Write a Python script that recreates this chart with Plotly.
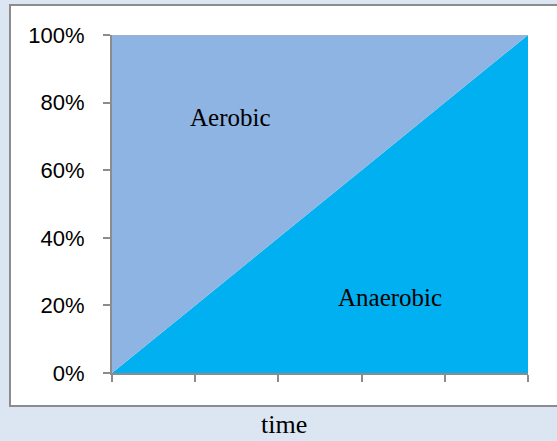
import plotly.graph_objects as go

time_points = [0, 1, 2, 3, 4, 5]
anaerobic = [0, 20, 40, 60, 80, 100]
aerobic = [100, 80, 60, 40, 20, 0]
y_ticks = [0, 20, 40, 60, 80, 100]
y_tick_labels = ["0%", "20%", "40%", "60%", "80%", "100%"]

W, H = 557, 441
L, R, T, B = 112, 29, 35, 68
pw, ph = W - L - R, H - T - B

def px_x(p):
    return (p - L) / pw

def px_y(p):
    return (H - B - p) / ph

fig = go.Figure()
fig.add_trace(go.Scatter(x=time_points, y=anaerobic, stackgroup="one", mode="none",
                         fillcolor="#00b0f0", name="Anaerobic"))
fig.add_trace(go.Scatter(x=time_points, y=aerobic, stackgroup="one", mode="none",
                         fillcolor="#8eb4e3", name="Aerobic"))

fig.add_shape(type="rect", xref="paper", yref="paper",
              x0=px_x(10), x1=px_x(570), y0=px_y(406), y1=px_y(5),
              fillcolor="white", line=dict(color="#8c8c8c", width=2), layer="below")
fig.add_shape(type="line", xref="paper", yref="y", x0=0, x1=1, y0=100, y1=100,
              line=dict(color="#b0b0b0", width=1))

fig.add_annotation(x=(230 - L) / pw * 5, y=(H - B - 117) / ph * 100, text="Aerobic",
                   showarrow=False,
                   font=dict(family="Liberation Serif", size=25, color="black"))
fig.add_annotation(x=(390 - L) / pw * 5, y=(H - B - 297) / ph * 100, text="Anaerobic",
                   showarrow=False,
                   font=dict(family="Liberation Serif", size=25, color="black"))
fig.add_annotation(xref="paper", yref="paper", x=px_x(284), y=px_y(441), yanchor="bottom",
                   text="time", showarrow=False,
                   font=dict(family="Liberation Serif", size=26, color="black"))

fig.update_layout(
    width=W, height=H, margin=dict(l=L, r=R, t=T, b=B),
    paper_bgcolor="#dce6f2", plot_bgcolor="rgba(0,0,0,0)",
    showlegend=False,
    xaxis=dict(range=[0, 5], tickvals=time_points, showticklabels=False,
               ticks="outside", ticklen=7, tickwidth=2, tickcolor="#8c8c8c",
               showline=True, linecolor="#8c8c8c", linewidth=2, showgrid=False, zeroline=False),
    yaxis=dict(range=[0, 100], tickvals=y_ticks, ticktext=y_tick_labels,
               ticks="outside", ticklen=7, tickwidth=2, tickcolor="#8c8c8c",
               showline=True, linecolor="#8c8c8c", linewidth=2, showgrid=False, zeroline=False,
               tickfont=dict(family="Liberation Sans", size=22, color="black"),
               ticklabelstandoff=14),
)

fig.write_html("out.html", config={"displayModeBar": False},
               post_script="document.body.style.margin='0';")
